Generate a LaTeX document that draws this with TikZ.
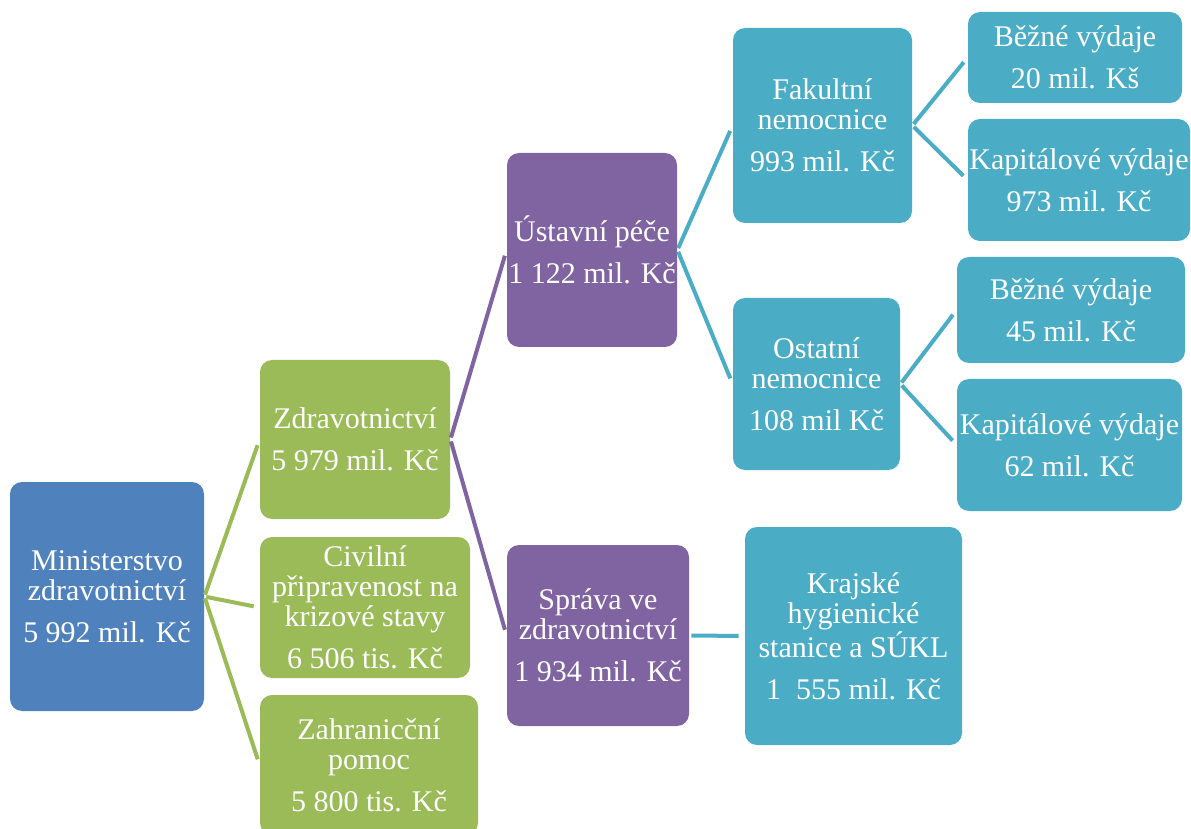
\documentclass[tikz,border=0pt]{standalone}
\usepackage{fontspec}
\setmainfont{Liberation Serif}
\usepackage{tikz}
\definecolor{mzblue}{HTML}{4F81BD}
\definecolor{mzgreen}{HTML}{9BBB59}
\definecolor{mzpurple}{HTML}{8064A2}
\definecolor{mzteal}{HTML}{4BACC6}
\tikzstyle{box} = [rounded corners=6pt, inner sep=0pt, text=white, align=center, font=\fontsize{15}{15}\selectfont]
\tikzstyle{conn} = [line width=2pt, shorten >=3pt, shorten <=1pt]

\begin{document}
\begin{tikzpicture}[x=0.5pt,y=-0.5pt]
			\useasboundingbox (0,0) rectangle (1191,829);
			\node[box,fill=mzblue,minimum width=97pt,minimum height=114.5pt] (mzd) at (107,596.5) {Ministerstvo\\zdravotnictví\\[6pt]5 992 mil. Kč};
			\node[box,fill=mzgreen,minimum width=95pt,minimum height=79.5pt] (zdrav) at (355,439.5) {Zdravotnictví\\[6pt]5 979 mil. Kč};
			\node[box,fill=mzgreen,minimum width=105pt,minimum height=70.5pt] (civil) at (365,607.5) {Civilní\\připravenost na\\krizové stavy\\[6pt]6 506 tis. Kč};
			\node[box,fill=mzgreen,minimum width=109pt,minimum height=70pt] (zahr) at (369,765) {Zahranicční\\pomoc\\[6pt]5 800 tis. Kč};
			\node[box,fill=mzpurple,minimum width=85pt,minimum height=97pt] (ustav) at (592,250) {Ústavní péče\\[6pt]1 122 mil. Kč};
			\node[box,fill=mzpurple,minimum width=91pt,minimum height=90.5pt] (sprava) at (598,635.5) {Správa ve\\zdravotnictví\\[6pt]1 934 mil. Kč};
			\node[box,fill=mzteal,minimum width=89.5pt,minimum height=97.5pt] (fakult) at (822.5,125.5) {Fakultní\\nemocnice\\[6pt]993 mil. Kč};
			\node[box,fill=mzteal,minimum width=83.5pt,minimum height=86pt] (ostat) at (816.5,384) {Ostatní\\nemocnice\\[6pt]108 mil Kč};
			\node[box,fill=mzteal,minimum width=107pt,minimum height=45.5pt] (bezF) at (1075,57.5) {Běžné výdaje\\[6pt]20 mil. Kš};
			\node[box,fill=mzteal,minimum width=111pt,minimum height=61pt] (kapF) at (1079,180) {Kapitálové výdaje\\[6pt]973 mil. Kč};
			\node[box,fill=mzteal,minimum width=114pt,minimum height=53pt] (bezO) at (1071,310) {Běžné výdaje\\[6pt]45 mil. Kč};
			\node[box,fill=mzteal,minimum width=112.5pt,minimum height=66pt] (kapO) at (1069.5,445) {Kapitálové výdaje\\[6pt]62 mil. Kč};
			\node[box,fill=mzteal,minimum width=108.5pt,minimum height=109pt] (kraj) at (853.5,636) {Krajské\\hygienické\\stanice a SÚKL\\[6pt]1\ \ 555 mil. Kč};
			\draw[conn,mzgreen] (mzd.east) -- (zdrav.west);
			\draw[conn,mzgreen] (mzd.east) -- (civil.west);
			\draw[conn,mzgreen] (mzd.east) -- (zahr.west);
			\draw[conn,mzpurple] (zdrav.east) -- (ustav.west);
			\draw[conn,mzpurple] (zdrav.east) -- (sprava.west);
			\draw[conn,mzteal] (ustav.east) -- (fakult.west);
			\draw[conn,mzteal] (ustav.east) -- (ostat.west);
			\draw[conn,mzteal] (sprava.east) -- (kraj.west);
			\draw[conn,mzteal] (fakult.east) -- (bezF.west);
			\draw[conn,mzteal] (fakult.east) -- (kapF.west);
			\draw[conn,mzteal] (ostat.east) -- (bezO.west);
			\draw[conn,mzteal] (ostat.east) -- (kapO.west);
		\end{tikzpicture}
\end{document}
